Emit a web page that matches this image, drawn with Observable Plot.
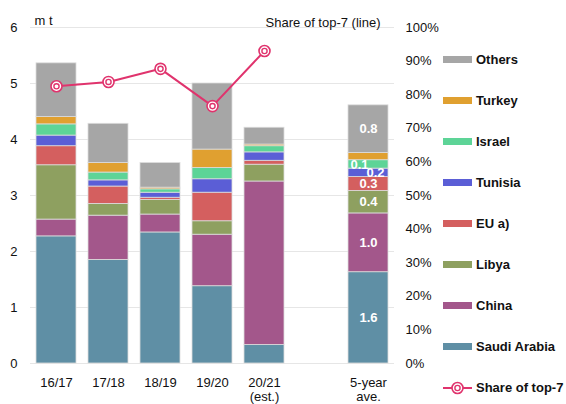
<!DOCTYPE html>
<html>
<head>
<meta charset="utf-8">
<script src="https://cdn.jsdelivr.net/npm/d3@7"></script>
<script src="https://cdn.jsdelivr.net/npm/@observablehq/plot@0.6"></script>
<style>
  html, body { margin: 0; padding: 0; background: #fff; }
  #wrap { position: relative; width: 566px; height: 404px; font-family: "Liberation Sans", Arial, sans-serif; }
  #legend { position: absolute; left: 443px; top: 0; }
  .li { position: absolute; left: 0; display: flex; align-items: center; white-space: nowrap; font-weight: bold; font-size: 13px; color: #111; }
  .sw { width: 29px; height: 7px; margin-right: 4px; }
</style>
</head>
<body>
<div id="wrap"></div>
<script>
// ---- Data ----
const periods = ["16/17", "17/18", "18/19", "19/20", "20/21", "5-year ave."];
const xDomain = ["16/17", "17/18", "18/19", "19/20", "20/21", "gap", "5-year ave."];
const xTickLabels = {"16/17": "16/17", "17/18": "17/18", "18/19": "18/19", "19/20": "19/20", "20/21": "20/21\n(est.)", "gap": "", "5-year ave.": "5-year\nave."};

const seriesNames = ["Saudi Arabia", "China", "Libya", "EU a)", "Tunisia", "Israel", "Turkey", "Others"];
const seriesColors = ["#5f8fa5", "#a3578b", "#8ea060", "#d45f5f", "#5b5ed6", "#5dd497", "#e0a030", "#a6a6a6"];

const saudi   = [2.27, 1.85, 2.34, 1.38, 0.33, 1.63];
const china   = [0.30, 0.79, 0.32, 0.92, 2.92, 1.05];
const libya   = [0.97, 0.21, 0.26, 0.24, 0.30, 0.40];
const eu      = [0.34, 0.31, 0.04, 0.51, 0.07, 0.25];
const tunisia = [0.19, 0.11, 0.09, 0.24, 0.15, 0.15];
const israel  = [0.20, 0.14, 0.06, 0.20, 0.11, 0.15];
const turkey  = [0.13, 0.17, 0.03, 0.33, 0.03, 0.13];
const others  = [0.96, 0.70, 0.44, 1.18, 0.30, 0.85];

// labels on the 5-year average bar (one per series, bottom to top)
const aveLabels = ["1.6", "1.0", "0.4", "0.3", "0.2", "0.1", "", "0.8"];

// share of top-7 (line, right axis, %)
const sharePeriods = ["16/17", "17/18", "18/19", "19/20", "20/21"];
const share = [82.5, 83.8, 87.7, 76.6, 93.0];

const leftTicks = [0, 1, 2, 3, 4, 5, 6];
const rightTicks = [0, 10, 20, 30, 40, 50, 60, 70, 80, 90, 100];
const lineColor = "#e0336d";

// ---- Build tables ----
const seriesValues = [saudi, china, libya, eu, tunisia, israel, turkey, others];
const rows = [];
seriesNames.forEach((s, i) => {
  periods.forEach((p, j) => {
    rows.push({period: p, series: s, value: seriesValues[i][j], si: i});
  });
});
// label rows for the 5-year average bar, positioned at segment midpoints
const aveIdx = periods.indexOf("5-year ave.");
let cum = 0;
const aveRows = seriesNames.map((s, i) => {
  const v = seriesValues[i][aveIdx];
  const mid = cum + v / 2;
  cum += v;
  return {period: "5-year ave.", mid, label: aveLabels[i], series: s};
}).filter(d => d.label !== "");
const isIsrael = d => d.series === "Israel";
const isTunisia = d => d.series === "Tunisia";

const yMax = 6;
const toLeft = v => v / 100 * yMax;
const shareRows = sharePeriods.map((p, i) => ({period: p, share: share[i]}));

const labelStyle = {x: "period", y: "mid", text: "label", fill: "white", fontWeight: "bold", fontSize: 13};

const chart = Plot.plot({
  width: 566,
  height: 404,
  marginLeft: 30,
  marginRight: 172,
  marginTop: 27,
  marginBottom: 41,
  style: {fontFamily: "'Liberation Sans', Arial, sans-serif", fontSize: "13px", color: "#111", background: "white", overflow: "visible"},
  x: {domain: xDomain, paddingInner: 0.23, paddingOuter: 0.115, label: null},
  y: {domain: [0, yMax], label: null},
  color: {domain: seriesNames, range: seriesColors},
  marks: [
    Plot.ruleY(leftTicks, {stroke: "#e6e6e6", strokeWidth: 1}),
    Plot.barY(rows, {x: "period", y: "value", z: "series", fill: "series", stroke: "#dcdcdc", strokeWidth: 0.8}),
    Plot.text(aveRows.filter(d => !isIsrael(d) && !isTunisia(d)), labelStyle),
    Plot.text(aveRows.filter(isIsrael), {...labelStyle, dx: -9}),
    Plot.text(aveRows.filter(isTunisia), {...labelStyle, dx: 7}),
    Plot.axisY({ticks: leftTicks, tickFormat: d => String(d), tickSize: 0, tickPadding: 13, anchor: "left", label: null, fontSize: 13}),
    Plot.axisY({ticks: rightTicks.map(toLeft), tickFormat: d => Math.round(d / yMax * 100) + "%", tickSize: 0, tickPadding: 11, anchor: "right", label: null, fontSize: 13}),
    Plot.axisX({tickSize: 0, tickPadding: 13, tickFormat: d => xTickLabels[d], lineHeight: 1.12, fontSize: 13, label: null}),
    Plot.line(shareRows, {x: "period", y: d => toLeft(d.share), stroke: lineColor, strokeWidth: 2}),
    Plot.dot(shareRows, {x: "period", y: d => toLeft(d.share), r: 5.5, fill: "white", stroke: lineColor, strokeWidth: 1.6}),
    Plot.dot(shareRows, {x: "period", y: d => toLeft(d.share), r: 2.6, fill: "white", stroke: lineColor, strokeWidth: 1.4}),
    Plot.text(["m t"], {frameAnchor: "top-left", dx: 4, dy: -12, textAnchor: "start", fontSize: 13}),
    Plot.text(["Share of top-7 (line)"], {frameAnchor: "top-right", dx: -14, dy: -10, textAnchor: "end", fontSize: 13})
  ]
});

const wrap = document.getElementById("wrap");
wrap.appendChild(chart);

// ---- Legend (HTML) ----
const legend = document.createElement("div");
legend.id = "legend";
const legendOrder = seriesNames.slice().reverse();
legendOrder.forEach((s, k) => {
  const color = seriesColors[seriesNames.indexOf(s)];
  const li = document.createElement("div");
  li.className = "li";
  li.style.top = (52 + k * 41) + "px";
  li.innerHTML = `<span class="sw" style="background:${color}"></span><span>${s}</span>`;
  legend.appendChild(li);
});
const lineItem = document.createElement("div");
lineItem.className = "li";
lineItem.style.top = (52 + 8 * 41) + "px";
lineItem.innerHTML = `<svg width="29" height="14" style="margin-right:4px"><line x1="0" y1="7" x2="29" y2="7" stroke="${lineColor}" stroke-width="2"/><circle cx="14.5" cy="7" r="5.5" fill="white" stroke="${lineColor}" stroke-width="1.6"/><circle cx="14.5" cy="7" r="2.6" fill="white" stroke="${lineColor}" stroke-width="1.4"/></svg><span>Share of top-7</span>`;
legend.appendChild(lineItem);
wrap.appendChild(legend);
</script>
</body>
</html>
